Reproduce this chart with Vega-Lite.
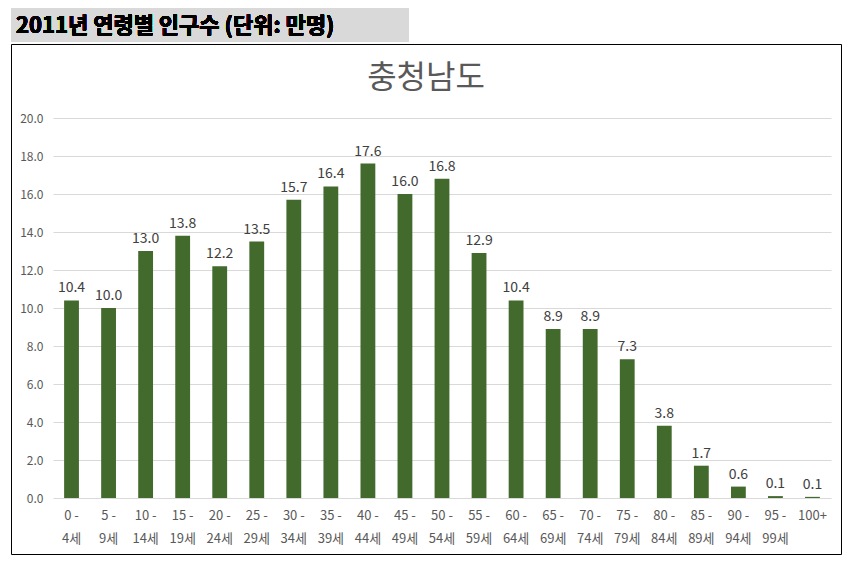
{
  "$schema": "https://vega.github.io/schema/vega-lite/v6.json",
  "padding": {"left": 10, "top": 8, "right": 9, "bottom": 8},
  "background": "#ffffff",
  "config": {"font": "Noto Sans CJK KR", "concat": {"spacing": 1}},
  "spacing": 1,
  "data": {
    "values": [
      {"age": "0 - 4세", "value": 10.4},
      {"age": "5 - 9세", "value": 10.0},
      {"age": "10 - 14세", "value": 13.0},
      {"age": "15 - 19세", "value": 13.8},
      {"age": "20 - 24세", "value": 12.2},
      {"age": "25 - 29세", "value": 13.5},
      {"age": "30 - 34세", "value": 15.7},
      {"age": "35 - 39세", "value": 16.4},
      {"age": "40 - 44세", "value": 17.6},
      {"age": "45 - 49세", "value": 16.0},
      {"age": "50 - 54세", "value": 16.8},
      {"age": "55 - 59세", "value": 12.9},
      {"age": "60 - 64세", "value": 10.4},
      {"age": "65 - 69세", "value": 8.9},
      {"age": "70 - 74세", "value": 8.9},
      {"age": "75 - 79세", "value": 7.3},
      {"age": "80 - 84세", "value": 3.8},
      {"age": "85 - 89세", "value": 1.7},
      {"age": "90 - 94세", "value": 0.6},
      {"age": "95 - 99세", "value": 0.1},
      {"age": "100+", "value": 0.06}
    ]
  },
  "vconcat": [
    {
      "width": 398,
      "height": 34,
      "view": {"fill": "#d9d9d9", "stroke": null},
      "mark": {"type": "text", "align": "left", "baseline": "middle", "dx": 5, "dy": 1, "fontSize": 22, "fontWeight": "bold", "color": "#000000", "font": "Noto Sans CJK KR"},
      "encoding": {
        "x": {"datum": 0, "type": "quantitative", "scale": {"domain": [0, 1]}, "axis": null},
        "y": {"datum": 0.5, "type": "quantitative", "scale": {"domain": [0, 1]}, "axis": null},
        "text": {"value": "2011년 연령별 인구수 (단위: 만명)"}
      }
    },
    {
      "width": 830,
      "height": 510,
      "view": {"stroke": "#000000", "strokeWidth": 1, "fill": "#ffffff"},
      "title": {"text": "충청남도", "fontSize": 32, "fontWeight": "normal", "color": "#595959", "anchor": "middle", "offset": -51, "font": "Noto Sans CJK KR"},
      "encoding": {
        "x": {
          "field": "age", "type": "nominal", "sort": null,
          "scale": {"range": [42, 820], "paddingInner": 0.6, "paddingOuter": 0.3},
          "axis": {
            "orient": "bottom", "offset": -56, "domain": false, "ticks": false, "title": null,
            "labelAngle": 0, "labelPadding": 11, "labelFontSize": 13, "labelColor": "#595959",
            "labelLineHeight": 23, "labelBaseline": "top",
            "labelExpr": "indexof(datum.label, ' - ') > 0 ? [slice(datum.label, 0, indexof(datum.label, ' - ') + 2), slice(datum.label, indexof(datum.label, ' - ') + 3)] : datum.label"
          }
        },
        "y": {
          "field": "value", "type": "quantitative",
          "scale": {"domain": [0, 20], "range": [454, 74], "nice": false, "zero": true},
          "axis": {
            "orient": "left", "offset": -42, "domain": false, "ticks": false, "title": null,
            "values": [0, 2, 4, 6, 8, 10, 12, 14, 16, 18, 20], "format": ".1f",
            "labelPadding": 10, "labelFontSize": 12, "labelColor": "#595959",
            "grid": true, "gridColor": "#d9d9d9", "gridWidth": 1
          }
        }
      },
      "layer": [
        {"mark": {"type": "bar", "color": "#436a2d"}},
        {
          "mark": {"type": "text", "baseline": "bottom", "dy": -5, "fontSize": 14, "color": "#404040"},
          "encoding": {"text": {"field": "value", "type": "quantitative", "format": ".1f"}}
        }
      ]
    }
  ]
}
